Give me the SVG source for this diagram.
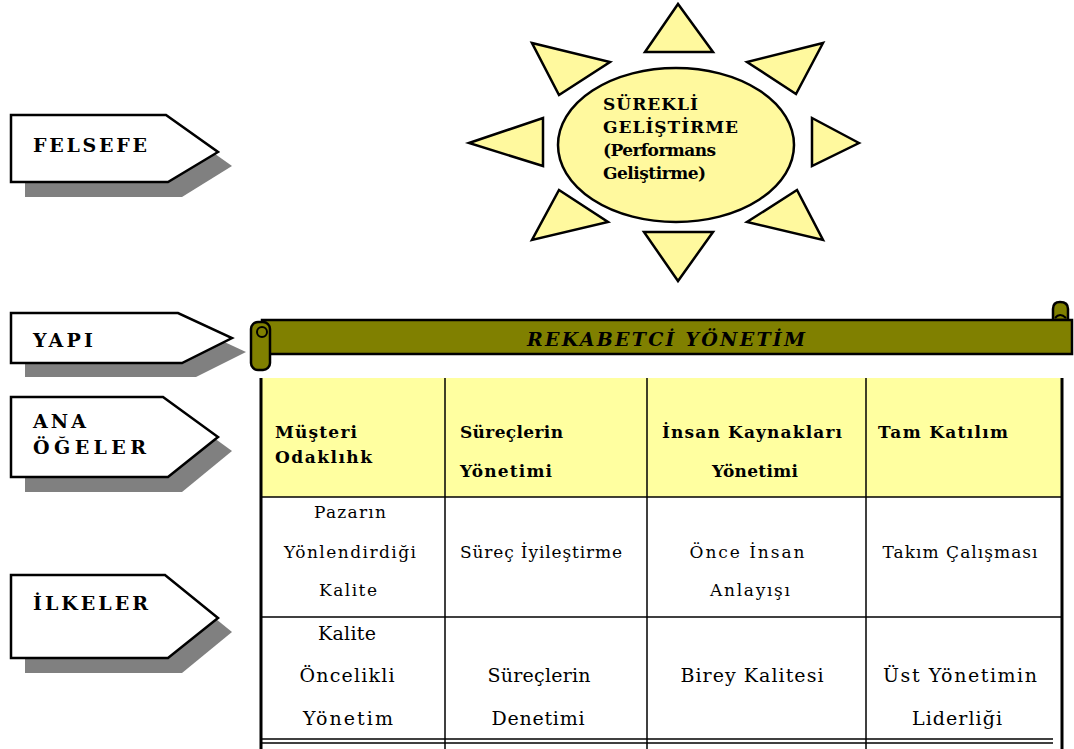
<svg xmlns="http://www.w3.org/2000/svg" width="1074" height="749" viewBox="0 0 1074 749">
<defs>
<style>
.sh{fill:#808080;stroke:none}
.pn{fill:#fff;stroke:#000;stroke-width:2.5;stroke-linejoin:miter}
.lbl{font-weight:bold;font-size:19px;fill:#000}
.ray{fill:#FFF99E;stroke:#000;stroke-width:2.5;stroke-linejoin:miter}
.sun{font-weight:bold;font-size:17px;fill:#000}
.ban{fill:#808000;stroke:#000;stroke-width:2.5}
.bt{font-weight:bold;font-style:italic;font-size:19px;fill:#000}
.ln{stroke:#000;stroke-width:1.5;fill:none}
.bd{stroke:#000;stroke-width:3;fill:none}
.hd{font-weight:bold;font-size:17px;fill:#000}
.c2{font-size:17px;fill:#000;text-anchor:middle}
.c3{font-size:19px;fill:#000;text-anchor:middle}
</style>
</defs>
<g font-family="DejaVu Serif, Liberation Serif, serif">
<g id="felsefe">
<polygon class="sh" points="25,129 180,129 232,166 182,197 25,197"/>
<polygon class="pn" points="11,115 166,115 218,152 168,182 11,182"/>
<text class="lbl" x="33" y="152" textLength="114" lengthAdjust="spacing">FELSEFE</text>
</g>

<g id="yapi">
<polygon class="sh" points="25,327 192,327 246,352 196,377 25,377"/>
<polygon class="pn" points="11,313 178,313 232,338 182,363 11,363"/>
<text class="lbl" x="33" y="347" textLength="60" lengthAdjust="spacing">YAPI</text>
</g>

<g id="ana-ogeler">
<polygon class="sh" points="25,411 177,411 232,451 182,492 25,492"/>
<polygon class="pn" points="11,397 163,397 218,437 168,477 11,477"/>
<text class="lbl" x="33" y="428" textLength="53" lengthAdjust="spacing">ANA</text>
<text class="lbl" x="33" y="454" textLength="113" lengthAdjust="spacing">ÖĞELER</text>
</g>

<g id="ilkeler">
<polygon class="sh" points="25,589 179,589 232,632 182,673 25,673"/>
<polygon class="pn" points="11,575 165,575 218,618 168,658 11,658"/>
<text class="lbl" x="33" y="610" textLength="115" lengthAdjust="spacing">İLKELER</text>
</g>

<g id="surekli-gelistirme">
<polygon class="ray" points="678,4 645,52 713,52"/>
<polygon class="ray" points="678,281 644,232 713,232"/>
<polygon class="ray" points="469,143 543,118 543,166"/>
<polygon class="ray" points="859,143 812,118 812,166"/>
<polygon class="ray" points="532,43 610,62 559,95"/>
<polygon class="ray" points="823,43 747,62 796,94"/>
<polygon class="ray" points="559,190 608,222 532,240"/>
<polygon class="ray" points="797,190 747,222 823,240"/>
<ellipse class="ray" cx="676" cy="145" rx="118" ry="77"/>
<text class="sun" x="603" y="110" textLength="95" lengthAdjust="spacing">SÜREKLİ</text>
<text class="sun" x="603" y="133" textLength="135" lengthAdjust="spacing">GELİŞTİRME</text>
<text class="sun" x="603" y="156" textLength="113" lengthAdjust="spacing">(Performans</text>
<text class="sun" x="603" y="179" textLength="103" lengthAdjust="spacing">Geliştirme)</text>
</g>

<g id="rekabetci-yonetim">
<path class="ban" d="M1053,320 L1053,309 Q1053,302 1060,302 Q1068,302 1068,309 L1068,320 Z"/>
<rect class="ban" x="262" y="320" width="810" height="34"/>
<path fill="none" stroke="#000" stroke-width="2" d="M1055,318 Q1060,312 1066,318"/>
<rect class="ban" x="251" y="322" width="19" height="48" rx="7"/>
<circle cx="262" cy="332" r="5" fill="#808000" stroke="#000" stroke-width="2"/>
<text class="bt" x="666" y="346" text-anchor="middle" textLength="278" lengthAdjust="spacing">REKABETCİ YÖNETİM</text>
</g>

<g id="tablo">
<rect x="261" y="378" width="801" height="119" fill="#FFFFA0"/>
<line class="bd" x1="261" y1="378" x2="261" y2="749"/>
<line class="bd" x1="1062" y1="378" x2="1062" y2="749"/>
<line class="ln" x1="445" y1="378" x2="445" y2="749"/>
<line class="ln" x1="647" y1="378" x2="647" y2="749"/>
<line class="ln" x1="866" y1="378" x2="866" y2="749"/>
<line class="ln" x1="261" y1="497" x2="1062" y2="497"/>
<line class="ln" x1="261" y1="617" x2="1062" y2="617"/>
<line class="ln" x1="261" y1="739" x2="1053" y2="739"/>
<line class="ln" x1="261" y1="743" x2="1053" y2="743"/>

<text class="hd" x="275" y="438" textLength="82" lengthAdjust="spacing">Müşteri</text>
<text class="hd" x="275" y="463" textLength="97" lengthAdjust="spacing">Odaklıhk</text>
<text class="hd" x="460" y="438" textLength="103" lengthAdjust="spacing">Süreçlerin</text>
<text class="hd" x="460" y="477" textLength="92" lengthAdjust="spacing">Yönetimi</text>
<text class="hd" x="662" y="438" textLength="180" lengthAdjust="spacing">İnsan Kaynakları</text>
<text class="hd" x="755" y="477" text-anchor="middle" textLength="86" lengthAdjust="spacing">Yönetimi</text>
<text class="hd" x="878" y="438" textLength="130" lengthAdjust="spacing">Tam Katılım</text>

<text class="c2" x="350" y="518" textLength="72" lengthAdjust="spacing">Pazarın</text>
<text class="c2" x="350" y="558" textLength="132" lengthAdjust="spacing">Yönlendirdiği</text>
<text class="c2" x="348" y="596" textLength="58" lengthAdjust="spacing">Kalite</text>
<text class="c2" x="541" y="558" textLength="162" lengthAdjust="spacing">Süreç İyileştirme</text>
<text class="c2" x="747" y="558" textLength="115" lengthAdjust="spacing">Önce İnsan</text>
<text class="c2" x="750" y="596" textLength="80" lengthAdjust="spacing">Anlayışı</text>
<text class="c2" x="960" y="558" textLength="155" lengthAdjust="spacing">Takım Çalışması</text>

<text class="c3" x="347" y="640" textLength="58" lengthAdjust="spacing">Kalite</text>
<text class="c3" x="347" y="682" textLength="95" lengthAdjust="spacing">Öncelikli</text>
<text class="c3" x="348" y="725" textLength="90" lengthAdjust="spacing">Yönetim</text>
<text class="c3" x="539" y="682" textLength="103" lengthAdjust="spacing">Süreçlerin</text>
<text class="c3" x="538" y="725" textLength="93" lengthAdjust="spacing">Denetimi</text>
<text class="c3" x="752" y="682" textLength="143" lengthAdjust="spacing">Birey Kalitesi</text>
<text class="c3" x="960" y="682" textLength="154" lengthAdjust="spacing">Üst Yönetimin</text>
<text class="c3" x="957" y="725" textLength="90" lengthAdjust="spacing">Liderliği</text>
</g>
</g>
</svg>
